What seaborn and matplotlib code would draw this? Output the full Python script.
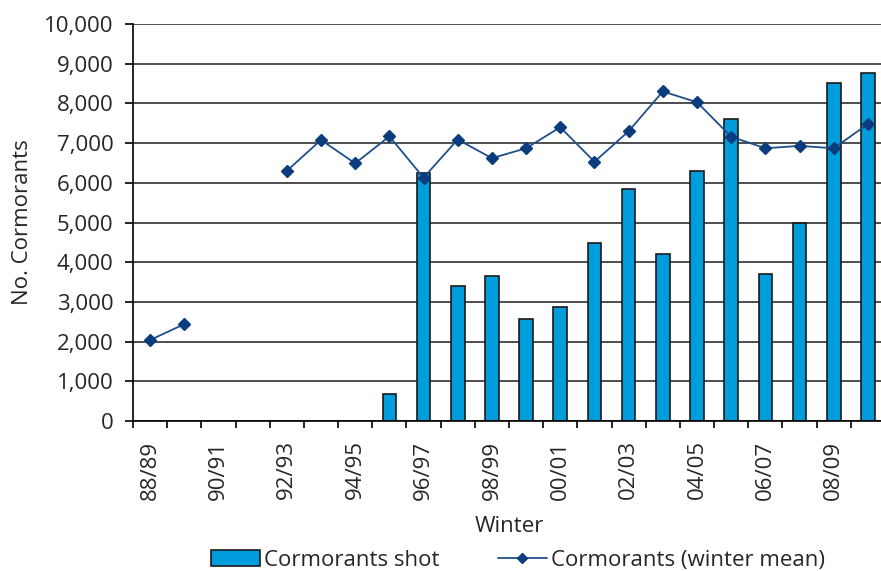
import matplotlib

matplotlib.use("Agg")
import matplotlib.pyplot as plt
import numpy as np
import pandas as pd
import seaborn as sns
from matplotlib.lines import Line2D
from matplotlib.patches import Patch
from matplotlib.ticker import FuncFormatter

# Winters 88/89 .. 09/10
winters = [
    "88/89", "89/90", "90/91", "91/92", "92/93", "93/94", "94/95", "95/96",
    "96/97", "97/98", "98/99", "99/00", "00/01", "01/02", "02/03", "03/04",
    "04/05", "05/06", "06/07", "07/08", "08/09", "09/10",
]
shot = [
    np.nan, np.nan, np.nan, np.nan, np.nan, np.nan, np.nan, 670,
    6250, 3410, 3660, 2560, 2860, 4490, 5840, 4210,
    6300, 7610, 3700, 4980, 8520, 8760,
]
winter_mean = [
    2040, 2440, np.nan, np.nan, 6300, 7080, 6490, 7170,
    6130, 7090, 6620, 6870, 7400, 6530, 7300, 8300,
    8030, 7160, 6870, 6930, 6870, 7480,
]
labelled = winters[::2]

df = pd.DataFrame({"winter": winters, "shot": shot, "mean": winter_mean})

sns.set_style("white")
plt.rcParams["font.family"] = ["Open Sans", "DejaVu Sans"]

fig = plt.figure(figsize=(8.81, 5.71), dpi=100)
ax = fig.add_axes([133 / 881, 1 - 421 / 571, 752 / 881, (421 - 24) / 571])

bar_color = "#009ddc"
line_color = "#1f4e8c"

sns.barplot(
    data=df, x="winter", y="shot", color=bar_color, width=0.4,
    edgecolor="#1a1a1a", linewidth=1.2, saturation=1, ax=ax, zorder=3,
)
pos = np.arange(len(winters))
ax.plot(pos, df["mean"], color=line_color, lw=1.3, marker="D", ms=6,
        mfc="#0b3c7d", mec="#0b3c7d", zorder=4)

ax.set_xlim(-0.5, len(winters) - 0.5)
ax.set_ylim(0, 10000)
ax.set_yticks(np.arange(0, 10001, 1000))
ax.yaxis.set_major_formatter(FuncFormatter(lambda v, p: f"{int(v):,}"))
ax.grid(axis="y", color="#404040", lw=1.3, zorder=0)
ax.grid(axis="x", visible=False)

# boundary ticks on the x axis, labels every other winter
ax.set_xticks(np.arange(-0.5, len(winters), 1))
ax.set_xticklabels([])
ax.set_xticks(pos[::2], minor=True)
ax.set_xticklabels(labelled, minor=True, rotation=90, fontsize=16)
ax.tick_params(axis="x", which="major", direction="out", length=5, width=1.2,
               color="black", bottom=True)
ax.tick_params(axis="x", which="minor", length=0, pad=14, bottom=True)
ax.tick_params(axis="y", direction="out", length=6, width=1.2, color="black",
               labelsize=16, pad=8, left=True)

for s in ["top", "right"]:
    ax.spines[s].set_visible(False)
for s in ["left", "bottom"]:
    ax.spines[s].set_color("black")
    ax.spines[s].set_linewidth(1.2)
    ax.spines[s].set_zorder(5)

ax.set_xlabel("Winter", fontsize=16, labelpad=12)
ax.set_ylabel("No. Cormorants", fontsize=16, labelpad=8)

handles = [
    Patch(facecolor=bar_color, edgecolor="#1a1a1a", lw=1.2, label="Cormorants shot"),
    Line2D([], [], color=line_color, lw=1.3, marker="D", ms=5, mfc="#0b3c7d",
           mec="#0b3c7d", label="Cormorants (winter mean)"),
]
fig.legend(handles=handles, loc="lower center", bbox_to_anchor=(0.588, -0.035),
           ncol=2, frameon=False, fontsize=16, handlelength=2.2,
           handletextpad=0.2, columnspacing=2.6)

fig.savefig("out.png", dpi=100)
